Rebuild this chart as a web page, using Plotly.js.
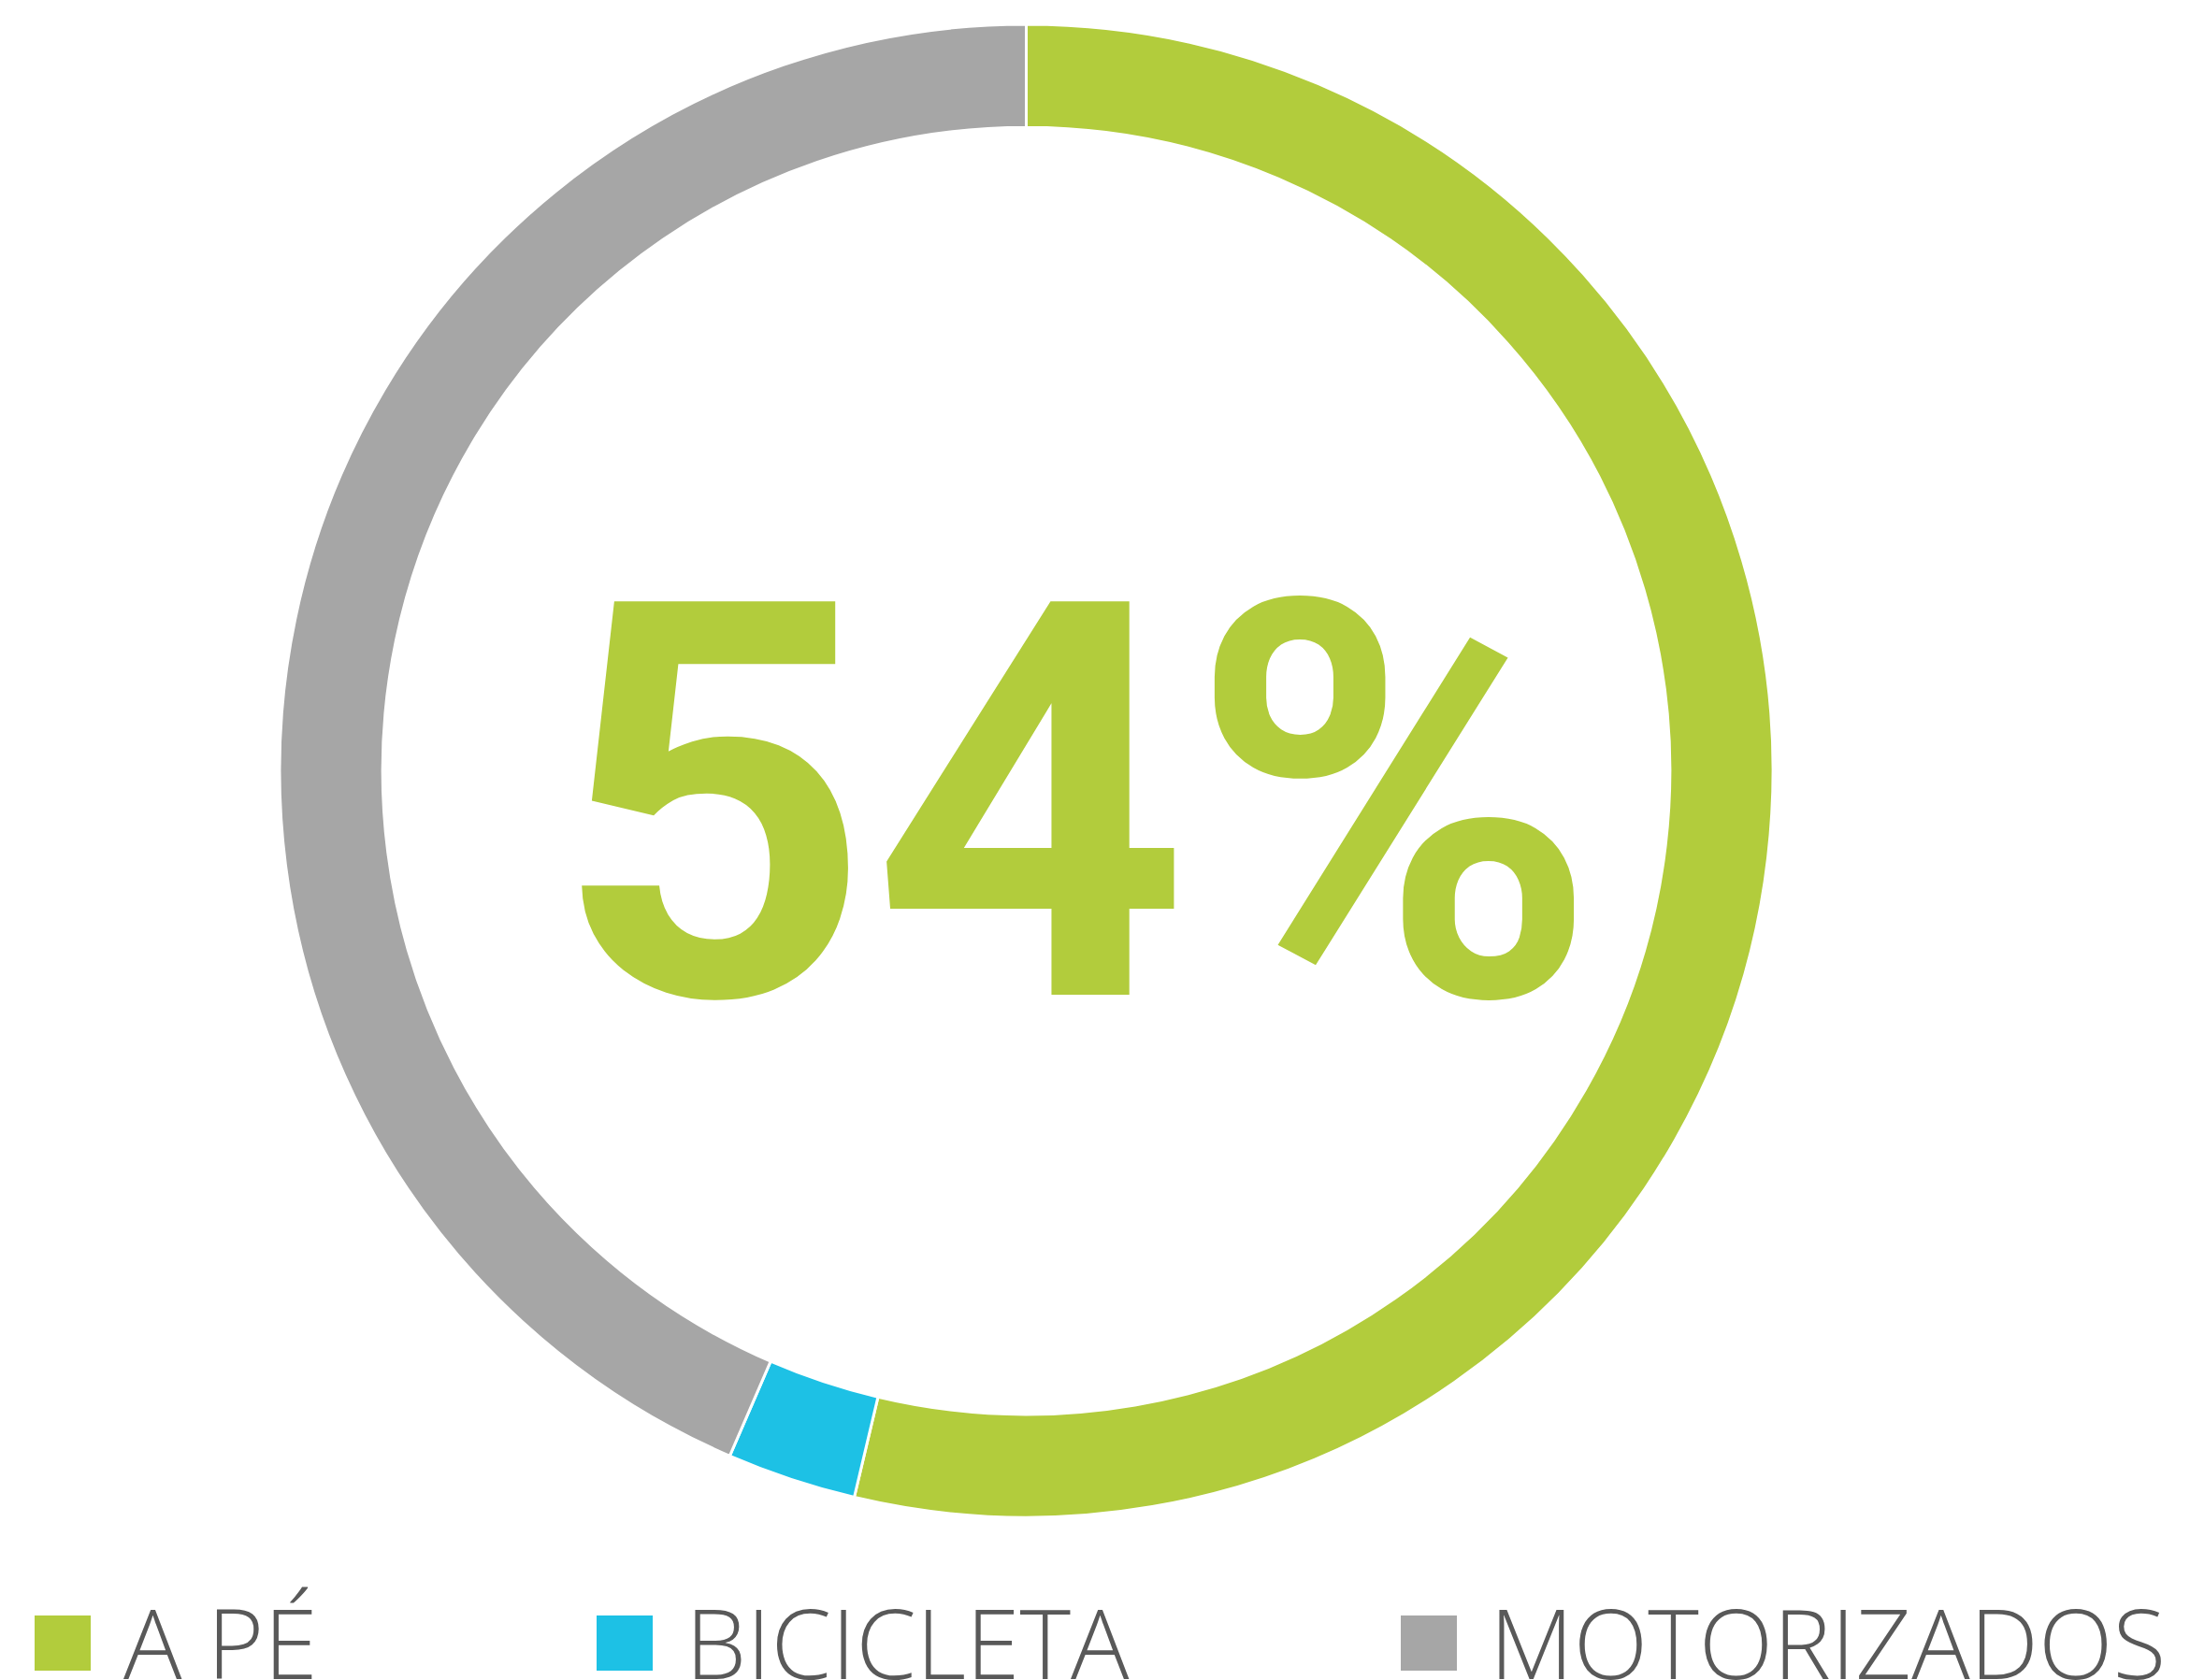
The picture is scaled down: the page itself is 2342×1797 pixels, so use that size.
<!DOCTYPE html>
<html>
<head>
<meta charset="utf-8">
<script src="https://cdn.plot.ly/plotly-3.0.1.min.js"></script>
<style>
  html, body { margin: 0; padding: 0; background: #ffffff; }
  #chart { width: 2342px; height: 1797px; }
</style>
</head>
<body>
<div id="chart"></div>
<script>
// ---- data ----
const categories = ["A PÉ", "BICICLETA", "MOTORIZADOS"];
const shares = [53.7, 2.8, 43.5];
const colors = ["#B2CC3C", "#1DC1E5", "#A6A6A6"];

// ---- layout constants ----
const W = 2342, H = 1797;
const px = v => v / W;            // x pixel -> paper
const py = v => 1 - v / H;        // y pixel (from top) -> paper
const legendSquareLeft = [37, 638, 1498];
const squareSize = 59;
const legendTop = 1728;

const total = shares.reduce((a, b) => a + b, 0);
const headline = Math.round(shares[0] / total * 100) + "%";

const trace = {
  type: "pie",
  labels: categories,
  values: shares,
  sort: false,
  direction: "clockwise",
  rotation: 0,
  hole: 0.862,
  textinfo: "none",
  hoverinfo: "label+percent",
  marker: { colors: colors, line: { color: "#ffffff", width: 3 } },
  domain: { x: [px(299), px(1896)], y: [py(1623), py(26)] },
  showlegend: false
};

const shapes = [];
const annotations = [];

categories.forEach((c, i) => {
  const x0 = legendSquareLeft[i];
  shapes.push({
    type: "rect", xref: "paper", yref: "paper",
    x0: px(x0), x1: px(x0 + squareSize + 1),
    y0: py(legendTop + squareSize), y1: py(legendTop),
    fillcolor: colors[i], line: { width: 0 }
  });
  annotations.push({
    xref: "paper", yref: "paper",
    x: px(x0 + 93), y: py(1755),
    xanchor: "left", yanchor: "middle",
    text: c, showarrow: false,
    font: { family: "Open Sans, Noto Sans, sans-serif", size: 104, color: "#595959", weight: 300 }
  });
});

annotations.push({
  xref: "paper", yref: "paper",
  x: px(1150), y: py(862),
  xanchor: "center", yanchor: "middle",
  text: "<b>" + headline + "</b>", showarrow: false,
  font: { family: "Roboto, Open Sans, sans-serif", size: 592, color: colors[0] }
});

const layout = {
  width: W, height: H,
  margin: { l: 0, r: 0, t: 0, b: 0 },
  paper_bgcolor: "#ffffff",
  plot_bgcolor: "#ffffff",
  showlegend: false,
  shapes: shapes,
  annotations: annotations
};

Plotly.newPlot("chart", [trace], layout, { displayModeBar: false, staticPlot: true });
</script>
</body>
</html>
